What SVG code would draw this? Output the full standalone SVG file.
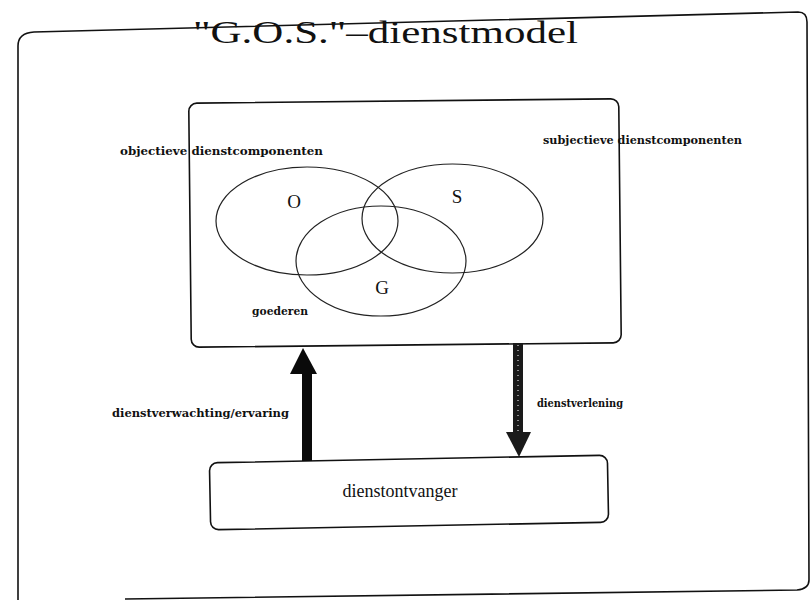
<svg xmlns="http://www.w3.org/2000/svg" width="812" height="605" viewBox="0 0 812 605">
<style>
.ln{fill:none;stroke:#111;stroke-width:1.6}
.el{fill:none;stroke:#222;stroke-width:1.2}
.big{font-family:"Liberation Serif","DejaVu Serif",serif;fill:#111}
.sm{font-family:"DejaVu Serif","Liberation Serif",serif;font-size:10.5px;font-weight:bold;fill:#111}
</style>
<rect width="812" height="605" fill="#fff"/>
<g id="frame">
<path class="ln" d="M18,600 L18,46 Q18,33 34,32 L798,12 Q807,12 807,22 L809,580 Q809,589 797,590 L125,599"/>
<text class="big" x="193" y="43" font-size="31" textLength="385" lengthAdjust="spacingAndGlyphs">"G.O.S."–dienstmodel</text>
</g>
<g id="dienst">
<rect class="ln" x="190" y="101" width="430" height="244" rx="8" transform="rotate(-0.6 405 223)"/>
<text class="sm" x="120" y="155" textLength="203" lengthAdjust="spacingAndGlyphs">objectieve dienstcomponenten</text>
<text class="sm" x="543" y="144" textLength="199" lengthAdjust="spacingAndGlyphs">subjectieve dienstcomponenten</text>
<ellipse class="el" cx="307" cy="221" rx="91" ry="54"/>
<ellipse class="el" cx="452.5" cy="218.5" rx="90.5" ry="54.5"/>
<ellipse class="el" cx="381" cy="261" rx="85" ry="55"/>
<text class="big" x="294" y="208" font-size="19" text-anchor="middle">O</text>
<text class="big" x="457" y="203" font-size="19" text-anchor="middle">S</text>
<text class="big" x="382" y="294" font-size="19" text-anchor="middle">G</text>
<text class="sm" x="252" y="315" textLength="56" lengthAdjust="spacingAndGlyphs">goederen</text>
</g>
<g id="dienstontvanger">
<rect class="ln" x="210" y="459" width="398" height="67" rx="8" transform="rotate(-1.1 409 492)"/>
<text class="big" x="400" y="497" font-size="18" text-anchor="middle">dienstontvanger</text>
</g>
<g id="connectors">
<g id="up">
<rect x="302" y="370" width="10" height="91" fill="#0a0a0a"/>
<polygon points="303,348 290,374 317,374" fill="#0a0a0a"/>
<text class="sm" x="112" y="417" textLength="177" lengthAdjust="spacingAndGlyphs">dienstverwachting/ervaring</text>
</g>
<g id="down">
<rect x="513" y="343" width="10" height="92" fill="#1a1a1a"/>
<line x1="518" y1="345" x2="518" y2="450" stroke="#fff" stroke-width="1" stroke-dasharray="1 4"/>
<polygon points="506,432 531,432 519,457" fill="#1a1a1a"/>
<text class="sm" x="537" y="407" textLength="86" lengthAdjust="spacingAndGlyphs">dienstverlening</text>
</g>
</g>
</svg>
